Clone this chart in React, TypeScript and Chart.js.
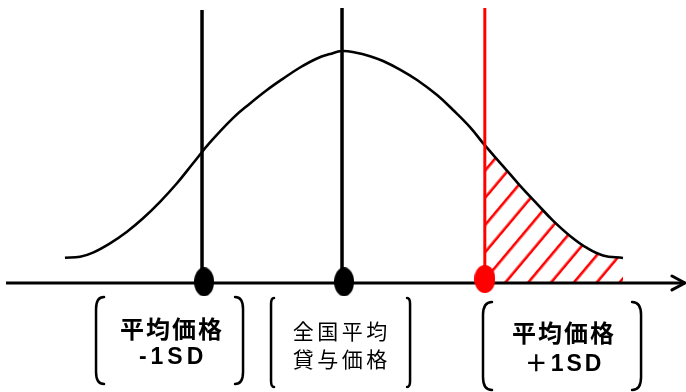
import React, { useEffect, useRef } from 'react';
import { Chart, registerables } from 'chart.js';

Chart.register(...registerables);

// ---- DATA ----
// Bell curve: x in SD units (z), y = relative height (peak = 100)
const curveZ = [-1.979, -1.871, -1.779, -1.657, -1.536, -1.421, -1.3, -1.179, -1.064, -0.943, -0.779, -0.657, -0.536, -0.421, -0.3, -0.179, -0.086, 0, 0.093, 0.2, 0.293, 0.414, 0.536, 0.679, 0.793, 0.914, 1.021, 1.15, 1.271, 1.393, 1.507, 1.629, 1.75, 1.864, 2.007];
const curveY = [10.9, 11.3, 13.1, 17.1, 22.1, 27.9, 35.0, 43.0, 51.6, 60.6, 71.1, 77.4, 83.2, 88.1, 92.9, 96.8, 98.7, 100, 99.4, 97.8, 95.7, 92.0, 87.5, 81.0, 74.6, 67.2, 59.3, 50.4, 42.0, 34.1, 26.9, 20.3, 15.1, 11.9, 10.8];

// Reference lines: 平均価格-1SD, 全国平均貸与価格, 平均価格+1SD
const markerZ = [-1.0, 0, 1.02];
const markerTop = [117.7, 118.5, 118.5];
const markerColor = ['#000000', '#000000', '#ff0000'];

// Horizontal axis extent (z)
const axisZ = [-2.4, 2.45];

// Labels under the axis
const labelLine1 = ['平均価格', '全国平均', '平均価格'];
const labelLine2 = ['-1SD', '貸与価格', '＋1SD'];

// ---- LAYOUT / STYLE ----
const X_MIN = -2.443;
const X_MAX = 2.457;
const Y_MIN = -47;
const Y_MAX = 122;
const ARROW_BACK = 0.093;
const ARROW_WING = 3.0;
const HATCH_ANCHOR_Z = 1.236;

const SD_FONT = 'bold 23px "Liberation Sans", "Noto Sans CJK JP", sans-serif';
const GROUPS = [
  { center: -1.221, left: -1.757, right: -0.707, top: -6.0, bottom: -43.5, y1: -19.6, y2: -32.3, hook: 8, r: 12,
    font1: 'bold 24px "Noto Sans CJK JP", sans-serif', ls1: 2, font2: SD_FONT, ls2: 4 },
  { center: -0.014, left: -0.507, right: 0.486, top: -6.5, bottom: -44.8, y1: -20.7, y2: -32.8, hook: 3, r: 6,
    font1: '21px "Noto Sans CJK JP", sans-serif', ls1: 3.5, font2: '21px "Noto Sans CJK JP", sans-serif', ls2: 3.5 },
  { center: 1.579, left: 1.007, right: 2.136, top: -8.2, bottom: -46.1, y1: -21.3, y2: -35.0, hook: 9, r: 13,
    font1: 'bold 24px "Noto Sans CJK JP", sans-serif', ls1: 2, font2: SD_FONT, ls2: 3 },
];

function drawBracket(ctx: CanvasRenderingContext2D, x: number, top: number, bottom: number, dir: number, hook: number, r: number) {
  ctx.beginPath();
  ctx.moveTo(x + dir * hook, top);
  ctx.quadraticCurveTo(x, top, x, top + r);
  ctx.lineTo(x, bottom - r);
  ctx.quadraticCurveTo(x, bottom, x + dir * hook, bottom);
  ctx.stroke();
}

const labelPlugin = {
  id: 'bracketLabels',
  afterDatasetsDraw(chart: any) {
    const ctx: CanvasRenderingContext2D = chart.ctx;
    const xs = chart.scales.x;
    const ys = chart.scales.y;
    ctx.save();
    GROUPS.forEach((g, i) => {
      const top = ys.getPixelForValue(g.top);
      const bottom = ys.getPixelForValue(g.bottom);
      ctx.strokeStyle = '#000';
      ctx.lineWidth = 2.5;
      ctx.lineCap = 'round';
      drawBracket(ctx, xs.getPixelForValue(g.left), top, bottom, 1, g.hook, g.r);
      drawBracket(ctx, xs.getPixelForValue(g.right), top, bottom, -1, g.hook, g.r);
      const cx = xs.getPixelForValue(g.center);
      ctx.fillStyle = '#000';
      ctx.textAlign = 'center';
      ctx.textBaseline = 'middle';
      ctx.font = g.font1;
      (ctx as any).letterSpacing = g.ls1 + 'px';
      ctx.fillText(labelLine1[i], cx + g.ls1 / 2, ys.getPixelForValue(g.y1));
      ctx.font = g.font2;
      (ctx as any).letterSpacing = g.ls2 + 'px';
      ctx.fillText(labelLine2[i], cx + g.ls2 / 2, ys.getPixelForValue(g.y2));
    });
    ctx.restore();
  },
};

function ellipse(color: string, w: number, h: number) {
  const c = document.createElement('canvas');
  c.width = w;
  c.height = h;
  const g = c.getContext('2d')!;
  g.fillStyle = color;
  g.beginPath();
  g.ellipse(w / 2, h / 2, w / 2, h / 2, 0, 0, Math.PI * 2);
  g.fill();
  return c;
}

export default function App() {
  const ref = useRef<HTMLCanvasElement | null>(null);

  useEffect(() => {
    if (!ref.current) return;
    const curve = curveZ.map((z, i) => ({ x: z, y: curveY[i] }));
    const tail = curve.filter((p) => p.x >= markerZ[2]);

    let pattern: CanvasPattern | null = null;
    const hatch = (c: any) => {
      const chart = c.chart;
      if (!chart.scales || !chart.scales.x) return 'rgba(255,0,0,0.3)';
      if (pattern) return pattern;
      const tile = document.createElement('canvas');
      tile.width = 35;
      tile.height = 10;
      const t = tile.getContext('2d')!;
      t.fillStyle = '#ff0000';
      t.fillRect(8.75 - 1.3, 0, 2.6, 10);
      t.fillRect(26.25 - 1.3, 0, 2.6, 10);
      const p = chart.ctx.createPattern(tile, 'repeat');
      const ax = chart.scales.x.getPixelForValue(HATCH_ANCHOR_Z);
      const ay = chart.scales.y.getPixelForValue(0);
      p.setTransform(new DOMMatrix().translate(ax, ay).rotate(40).translate(-8.75, 0));
      pattern = p;
      return p;
    };

    const lineBase = { pointRadius: 0, showLine: true, fill: false, tension: 0 };

    const datasets: any[] = [
      {
        ...lineBase,
        label: 'tail',
        data: tail,
        borderWidth: 0,
        borderColor: 'rgba(0,0,0,0)',
        backgroundColor: hatch,
        fill: 'origin',
        tension: 0.4,
        order: 6,
      },
      {
        ...lineBase,
        label: 'axis',
        data: [
          { x: axisZ[0], y: 0 },
          { x: axisZ[1], y: 0 },
        ],
        borderColor: '#000',
        borderWidth: 3,
        order: 5,
      },
      {
        ...lineBase,
        label: 'arrow',
        data: [
          { x: axisZ[1] - ARROW_BACK, y: ARROW_WING },
          { x: axisZ[1], y: 0 },
          { x: axisZ[1] - ARROW_BACK, y: -ARROW_WING },
        ],
        borderColor: '#000',
        borderWidth: 3,
        borderJoinStyle: 'round',
        borderCapStyle: 'round',
        order: 5,
      },
      {
        ...lineBase,
        label: 'curve',
        data: curve,
        borderColor: '#000',
        borderWidth: 2.6,
        tension: 0.4,
        order: 4,
      },
      ...markerZ.map((z, i) => ({
        ...lineBase,
        label: 'line' + i,
        data: [
          { x: z, y: 0 },
          { x: z, y: markerTop[i] },
        ],
        borderColor: markerColor[i],
        borderWidth: i === 2 ? 3 : 3.5,
        order: 3,
      })),
      {
        label: 'dots',
        data: markerZ.slice(0, 2).map((z) => ({ x: z + 0.015, y: 0.5 })),
        showLine: false,
        pointStyle: ellipse('#000000', 20, 29),
        pointRadius: 10,
        order: 1,
      },
      {
        label: 'redDot',
        data: [{ x: markerZ[2], y: 1.7 }],
        showLine: false,
        pointStyle: ellipse('#ff0000', 21, 28),
        pointRadius: 10,
        order: 1,
      },
    ];

    const chart = new Chart(ref.current, {
      type: 'line',
      data: { datasets },
      options: {
        animation: false,
        responsive: true,
        maintainAspectRatio: false,
        events: [],
        layout: { padding: 0, autoPadding: false },
        plugins: { legend: { display: false }, tooltip: { enabled: false } },
        scales: {
          x: { type: 'linear', min: X_MIN, max: X_MAX, display: false },
          y: { type: 'linear', min: Y_MIN, max: Y_MAX, display: false },
        },
      } as any,
      plugins: [labelPlugin],
    });
    return () => chart.destroy();
  }, []);

  return (
    <div style={{ position: 'absolute', left: 0, top: 0, width: 686, height: 392, background: '#fff' }}>
      <canvas ref={ref} />
    </div>
  );
}
